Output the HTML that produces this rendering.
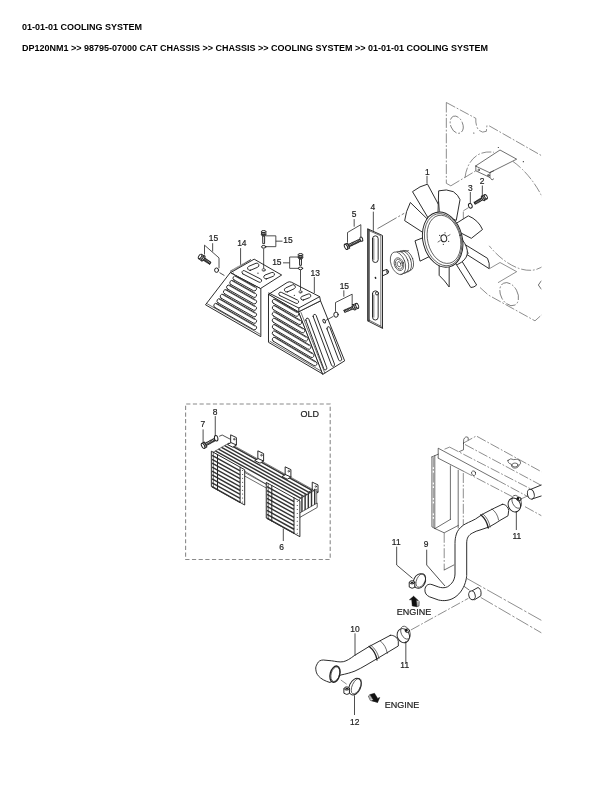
<!DOCTYPE html>
<html lang="en"><head><meta charset="utf-8"><title>01-01-01 COOLING SYSTEM</title>
<style>
html,body{margin:0;padding:0;background:#fff;}
body{width:612px;height:792px;position:relative;overflow:hidden;font-family:"Liberation Sans",sans-serif;color:#000;}
h1,p{will-change:transform;margin:0;position:absolute;left:22px;font-weight:bold;font-size:9px;line-height:10px;white-space:nowrap;letter-spacing:0;}
h1{top:22px;}
p{top:43px;}
svg{position:absolute;left:0;top:0;will-change:transform;}
svg text{font-family:"Liberation Sans",sans-serif;fill:#222;stroke:#222;stroke-width:.2px;}
.k{fill:none;stroke:#222;stroke-width:.95;stroke-linecap:round;stroke-linejoin:round;}
.w{fill:#fff;stroke:#222;stroke-width:.95;stroke-linecap:round;stroke-linejoin:round;}
.t{fill:none;stroke:#222;stroke-width:.65;stroke-linecap:round;stroke-linejoin:round;}
.ph{fill:none;stroke:#505050;stroke-width:.65;stroke-dasharray:10 1.8 1.8 1.8;}
.ld{fill:none;stroke:#222;stroke-width:.8;}
.d{fill:#222;stroke:none;}
</style></head><body>
<h1>01-01-01 COOLING SYSTEM</h1>
<p>DP120NM1 &gt;&gt; 98795-07000 CAT CHASSIS &gt;&gt; CHASSIS &gt;&gt; COOLING SYSTEM &gt;&gt; 01-01-01 COOLING SYSTEM</p>
<svg width="612" height="792" viewBox="0 0 612 792">
<!-- 05_engine -->
<clipPath id="cpE"><rect x="430" y="90" width="111.5" height="260"/></clipPath>
<g clip-path="url(#cpE)">
<path class="ph" d="M446.33,102.5 L446.33,183.33 L450.83,185.83"/>
<path class="ph" d="M 446.33,102.5 L 475.83,118.33 Q 475.33,124.17 478,129.17 Q 481.67,133.67 486.33,131.33 L 487,125"/>
<path class="ph" d="M489.17,125.83 L543.33,156.67"/>
<ellipse class="ph" cx="456.67" cy="124.67" rx="6" ry="9" transform="rotate(-22 456.67 124.67)"/>
<ellipse class="d" cx="473.83" cy="133" rx="0.58" ry="0.58"/>
<ellipse class="d" cx="498.33" cy="147.5" rx="0.58" ry="0.58"/>
<ellipse class="d" cx="523.33" cy="161.67" rx="0.58" ry="0.58"/>
<path class="ph" d="M450.83,185.83 L475.83,170.83"/>
<path class="ph" d="M465,177.5 A64,36.65 61.6 0 1 494,152.3"/>
<path class="ph" d="M513,161.5 A64,36.65 61.6 0 1 545,203"/>
<path class="ph" d="M545,264.5 A64,36.65 61.6 0 1 489.2,245.8"/>
<path class="t" d="M475.83,165.83 L500,150 L516.67,159.17 L490,172.5 Z"/>
<path class="t" d="M475.83,165.83 L475.83,170.83 L490,177.5 L490,172.5"/>
<path class="t" d="M490,177.5 L492,180 L493.67,178.83"/>
<path class="t" d="M490,172.5 L493.67,170.83"/>
<ellipse class="t" cx="478.67" cy="170" rx="0.83" ry="0.83"/>
<ellipse class="t" cx="488.33" cy="175.33" rx="0.83" ry="0.83"/>
<path class="ph" d="M463.33,210.83 L468.67,207.5"/>
<path class="ph" d="M463.33,211.67 L463.33,219.17"/>
<path class="t" d="M490,268.33 L500,262.5 L516.67,271.67 L498.33,282.5" style="stroke:#555"/>
<ellipse class="ph" cx="509.17" cy="294.17" rx="8.33" ry="12.33" transform="rotate(-28 509.17 294.17)"/>
<path class="ph" d="M480,287.5 L488.33,295 L535,320.83 L543.33,313.33"/>
<path class="t" d="M541.33,280.83 L538.33,285 L541.33,289.17"/>
</g>

<!-- 10_louvers -->
<path class="w" d="M230.83,272.5 L260.83,288.33 L260.83,336.67 L205.83,305 Z"/>
<path class="t" d="M207,303.67 L260,334.17"/>
<path class="w" d="M230.83,272.5 L254.17,259.17 L281.67,275 L260.83,288.33 Z"/>
<path class="k" d="M230.5,271.33 L250.83,259.67" style="stroke-width:1.3;stroke-dasharray:.7 .5;stroke-linecap:butt"/>
<path class="t" d="M232.5,273.67 L233.67,273"/>
<path class="w" d="M233.95,279.89 L253.45,290.72 A2.17,2.17 0 0 0 255.55,286.94 L236.05,276.11 A2.17,2.17 0 0 0 233.95,279.89 Z"/>
<path class="t" d="M235.5,276.42 L254.5,287.17"/>
<path class="w" d="M230.75,284.47 L253.44,297.2 A2.17,2.17 0 0 0 255.56,293.42 L232.87,280.69 A2.17,2.17 0 0 0 230.75,284.47 Z"/>
<path class="t" d="M232.31,281 L254.5,293.64"/>
<path class="w" d="M227.55,289.06 L253.44,303.67 A2.17,2.17 0 0 0 255.56,299.89 L229.67,285.28 A2.17,2.17 0 0 0 227.55,289.06 Z"/>
<path class="t" d="M229.11,285.58 L254.5,300.11"/>
<path class="w" d="M224.35,293.63 L253.43,310.13 A2.17,2.17 0 0 0 255.57,306.37 L226.49,289.87 A2.17,2.17 0 0 0 224.35,293.63 Z"/>
<path class="t" d="M225.92,290.17 L254.5,306.58"/>
<path class="w" d="M221.15,298.21 L253.43,316.6 A2.17,2.17 0 0 0 255.57,312.84 L223.29,294.45 A2.17,2.17 0 0 0 221.15,298.21 Z"/>
<path class="t" d="M222.72,294.75 L254.5,313.06"/>
<path class="w" d="M217.95,302.8 L253.42,323.07 A2.17,2.17 0 0 0 255.58,319.31 L220.11,299.04 A2.17,2.17 0 0 0 217.95,302.8 Z"/>
<path class="t" d="M219.53,299.33 L254.5,319.53"/>
<path class="w" d="M214.75,307.38 L253.42,329.55 A2.17,2.17 0 0 0 255.58,325.79 L216.91,303.62 A2.17,2.17 0 0 0 214.75,307.38 Z"/>
<path class="t" d="M216.33,303.92 L254.5,326"/>
<path class="w" d="M250.4,270.31 L257.73,267.19 A2.16,2.16 0 0 0 256.05,263.23 L248.72,266.35 A2.16,2.16 0 0 0 250.4,270.31 Z"/>
<path class="w" d="M266.47,278.87 L273.26,276.28 A2.05,2.05 0 0 0 271.8,272.46 L265.01,275.05 A2.05,2.05 0 0 0 266.47,278.87 Z"/>
<path class="w" d="M242.82,273.9 L259.1,282.21 A1.78,1.78 0 0 0 260.72,279.05 L244.44,270.74 A1.78,1.78 0 0 0 242.82,273.9 Z"/>
<ellipse class="t" cx="263.69" cy="269.95" rx="1.62" ry="1.4"/>
<ellipse class="d" cx="263.9" cy="270.27" rx="0.65" ry="0.54"/>
<ellipse class="d" cx="257.97" cy="273.19" rx="0.65" ry="0.65"/>
<path class="w" d="M268.83,294.17 L298.83,311.67 L323,374.17 L268.83,342.5 Z"/>
<path class="t" d="M270,341.33 L322.17,371.67"/>
<path class="w" d="M298.83,311.67 L320.5,300.83 L344.67,360.83 L323,374.17 Z"/>
<path class="w" d="M 268.83,294.17 L 287.17,282.5 Q 289.33,281.17 291.33,282.17 L 319.67,296.67 L 320.5,300.83 L 298.83,311.67 Z"/>
<path class="k" d="M268.83,293 L298.83,308 L319.67,296.67"/>
<path class="k" d="M298.83,308 L298.83,311.67"/>
<path class="w" d="M273.25,303.21 L295.59,316.05 A2.17,2.17 0 0 0 297.75,312.29 L275.41,299.45 A2.17,2.17 0 0 0 273.25,303.21 Z"/>
<path class="t" d="M274.83,299.75 L296.67,312.5"/>
<path class="w" d="M273.24,309.54 L298.63,324.29 A2.17,2.17 0 0 0 300.81,320.55 L275.42,305.8 A2.17,2.17 0 0 0 273.24,309.54 Z"/>
<path class="t" d="M274.83,306.08 L299.72,320.75"/>
<path class="w" d="M273.23,315.87 L301.68,332.54 A2.17,2.17 0 0 0 303.88,328.8 L275.43,312.13 A2.17,2.17 0 0 0 273.23,315.87 Z"/>
<path class="t" d="M274.83,312.42 L302.78,329"/>
<path class="w" d="M273.23,322.2 L304.73,340.79 A2.17,2.17 0 0 0 306.93,337.05 L275.43,318.46 A2.17,2.17 0 0 0 273.23,322.2 Z"/>
<path class="t" d="M274.83,318.75 L305.83,337.25"/>
<path class="w" d="M273.22,328.53 L307.78,349.03 A2.17,2.17 0 0 0 310,345.31 L275.44,324.81 A2.17,2.17 0 0 0 273.22,328.53 Z"/>
<path class="t" d="M274.83,325.08 L308.89,345.5"/>
<path class="w" d="M273.22,334.86 L310.83,357.28 A2.17,2.17 0 0 0 313.05,353.56 L275.44,331.14 A2.17,2.17 0 0 0 273.22,334.86 Z"/>
<path class="t" d="M274.83,331.42 L311.94,353.75"/>
<path class="w" d="M273.22,341.19 L313.89,365.53 A2.17,2.17 0 0 0 316.11,361.81 L275.44,337.47 A2.17,2.17 0 0 0 273.22,341.19 Z"/>
<path class="t" d="M274.83,337.75 L315,362"/>
<path class="t" d="M301,312.5 L324.83,373"/>
<path class="w" d="M305.85,320.22 L323.85,368.88 A1.58,1.58 0 0 0 326.81,367.78 L308.81,319.12 A1.58,1.58 0 0 0 305.85,320.22 Z"/>
<path class="w" d="M313.19,316.56 L331.52,365.23 A1.58,1.58 0 0 0 334.48,364.11 L316.15,315.44 A1.58,1.58 0 0 0 313.19,316.56 Z"/>
<path class="w" d="M327.02,328.89 L338.69,359.89 A1.58,1.58 0 0 0 341.65,358.77 L329.98,327.77 A1.58,1.58 0 0 0 327.02,328.89 Z"/>
<ellipse class="k" cx="324.17" cy="321.17" rx="1.17" ry="2" transform="rotate(-25 324.17 321.17)"/>
<path class="w" d="M287.38,291.91 L294.17,288.78 A2.16,2.16 0 0 0 292.37,284.86 L285.58,287.99 A2.16,2.16 0 0 0 287.38,291.91 Z"/>
<path class="w" d="M303.38,300.05 L309.63,297.57 A1.94,1.94 0 0 0 308.19,293.97 L301.94,296.45 A1.94,1.94 0 0 0 303.38,300.05 Z"/>
<path class="w" d="M279.78,295.55 L296.06,303.32 A1.78,1.78 0 0 0 297.6,300.1 L281.32,292.33 A1.78,1.78 0 0 0 279.78,295.55 Z"/>
<ellipse class="t" cx="300.5" cy="291.89" rx="1.51" ry="1.29"/>
<ellipse class="d" cx="300.72" cy="292.22" rx="0.65" ry="0.54"/>
<ellipse class="d" cx="294.35" cy="295.34" rx="0.65" ry="0.65"/>

<!-- 12_louver_bolts -->
<text x="208.73" y="241.24" font-size="9" transform="translate(208.73 241.24) scale(.94 1.04) translate(-208.73 -241.24)">15</text>
<text x="237.16" y="246.33" font-size="9" transform="translate(237.16 246.33) scale(.94 1.04) translate(-237.16 -246.33)">14</text>
<path class="ld" d="M212.65,243.2 L212.65,251.53"/>
<path class="ld" d="M204.51,254.47 L204.51,245.16 L219.02,257.9 L219.02,268.2"/>
<g transform="translate(200.1 256.43) rotate(34.18)">
<path class="w" d="M3.6,-1.2 L12.21,-1.08 L12.21,1.08 L3.6,1.2 Z"/>
<path class="t" d="M4.55,-1.2 L5.25,1.2 M5.95,-1.2 L6.65,1.2 M7.35,-1.2 L8.05,1.2 M8.76,-1.2 L9.46,1.2 M10.16,-1.2 L10.86,1.2 M11.56,-1.2 L12.26,1.2"/>
<path class="t" d="M4.6,0.36 L11.91,0.36"/>
<ellipse class="w" cx="3.6" cy="0" rx="1.17" ry="2.99"/>
<path class="w" d="M0,-2.6 L3.06,-2.6 L3.06,2.6 L0,2.6 Z"/>
<ellipse class="w" cx="0" cy="0" rx="1.3" ry="2.6"/>
<path class="t" d="M1.04,1.17 L3.06,1.17 M1.04,-1.17 L3.06,-1.17"/>
</g>
<ellipse class="w" style="stroke-width:1" cx="216.57" cy="270.16" rx="2" ry="2.2"/>
<path class="ld" d="M219.51,272.61 L224.41,275.55"/>
<path class="ld" d="M240.59,248.1 L240.59,264.76"/>
<g transform="translate(263.67 231.67) rotate(90)">
<path class="w" d="M3.2,-1 L12,-0.9 L12,0.9 L3.2,1 Z"/>
<ellipse class="w" cx="3.2" cy="0" rx="0.99" ry="2.53"/>
<path class="w" d="M0,-2.2 L2.72,-2.2 L2.72,2.2 L0,2.2 Z"/>
<ellipse class="w" cx="0" cy="0" rx="1.1" ry="2.2"/>
<path class="t" d="M0.88,0.99 L2.72,0.99 M0.88,-0.99 L2.72,-0.99"/>
</g>
<ellipse class="w" style="stroke-width:1" cx="263.67" cy="246.83" rx="2.2" ry="1.3"/>
<path class="ld" d="M265.83,235.83 L275.83,235.83 L275.83,246.67 L265.83,246.67"/>
<path class="ld" d="M275.83,241.17 L282.5,241.17"/>
<text x="283.33" y="243.33" font-size="9" transform="translate(283.33 243.33) scale(.94 1.04) translate(-283.33 -243.33)">15</text>
<path class="ld" d="M263.67,248.67 L263.67,268.67"/>
<g transform="translate(300.5 254.67) rotate(90)">
<path class="w" d="M3.2,-1 L10.66,-0.9 L10.66,0.9 L3.2,1 Z"/>
<ellipse class="w" cx="3.2" cy="0" rx="0.99" ry="2.53"/>
<path class="w" d="M0,-2.2 L2.72,-2.2 L2.72,2.2 L0,2.2 Z"/>
<ellipse class="w" cx="0" cy="0" rx="1.1" ry="2.2"/>
<path class="t" d="M0.88,0.99 L2.72,0.99 M0.88,-0.99 L2.72,-0.99"/>
</g>
<ellipse class="w" style="stroke-width:1" cx="300.5" cy="268.33" rx="2.2" ry="1.3"/>
<path class="ld" d="M298.83,257 L289.67,257 L289.67,268.33 L298.83,268.33"/>
<path class="ld" d="M289.67,262.83 L283,262.83"/>
<text x="272.17" y="265.5" font-size="9" transform="translate(272.17 265.5) scale(.94 1.04) translate(-272.17 -265.5)">15</text>
<path class="ld" d="M300.5,270 L300.5,290.33"/>
<text x="310.5" y="275.83" font-size="9" transform="translate(310.5 275.83) scale(.94 1.04) translate(-310.5 -275.83)">13</text>
<path class="ld" d="M314.33,277 L314.33,293"/>
<text x="339.67" y="289.5" font-size="9" transform="translate(339.67 289.5) scale(.94 1.04) translate(-339.67 -289.5)">15</text>
<path class="ld" d="M343.83,290.33 L343.83,296.67"/>
<path class="ld" d="M335.5,311.67 L335.5,302.5 L352.17,294.17 L352.17,305"/>
<ellipse class="w" style="stroke-width:1" cx="336" cy="314.67" rx="2.2" ry="2.6"/>
<g transform="translate(357.17 305.83) rotate(156.81)">
<path class="w" d="M3.6,-1.2 L13.97,-1.08 L13.97,1.08 L3.6,1.2 Z"/>
<path class="t" d="M4.55,-1.2 L5.25,1.2 M6.01,-1.2 L6.71,1.2 M7.47,-1.2 L8.17,1.2 M8.93,-1.2 L9.63,1.2 M10.4,-1.2 L11.1,1.2 M11.86,-1.2 L12.56,1.2 M13.32,-1.2 L14.02,1.2"/>
<path class="t" d="M4.6,0.36 L13.67,0.36"/>
<ellipse class="w" cx="3.6" cy="0" rx="1.17" ry="2.99"/>
<path class="w" d="M0,-2.6 L3.06,-2.6 L3.06,2.6 L0,2.6 Z"/>
<ellipse class="w" cx="0" cy="0" rx="1.3" ry="2.6"/>
<path class="t" d="M1.04,1.17 L3.06,1.17 M1.04,-1.17 L3.06,-1.17"/>
</g>
<path class="ld" d="M333.33,316.33 L326,320.33"/>

<!-- 20_bar_fan -->
<path class="ld" d="M377.5,228.67 L404.17,213.33" style="stroke-width:.6;stroke-dasharray:22 2 2 2"/>
<path class="w" d="M 381.67,271.33 L 387,269.33 Q 389.33,271 388,273.33 L 382.5,275.83 Z"/>
<ellipse class="t" cx="387.33" cy="271.67" rx="0.83" ry="1.67" transform="rotate(-15 387.33 271.67)"/>
<path class="w" d="M368,229 L382.5,235.5 L382.5,328.33 L368,321 Z"/>
<path class="t" d="M369.5,230.83 L380.83,235.83 L380.83,326.17 L369.5,320.33 Z"/>
<path class="t" d="M368,229 L369.5,230.83"/>
<path class="t" d="M368,321 L369.5,320.33"/>
<path class="t" d="M380.83,326.17 L382.5,328.33"/>
<path class="k" d="M368.83,229.83 L368.83,320.67"/>
<path class="w" d="M372.5,238.67 L372.5,259.67 A2.83,2.83 0 0 0 378.16,259.67 L378.16,238.67 A2.83,2.83 0 0 0 372.5,238.67 Z"/>
<path class="t" d="M373.83,238.67 L373.83,259.67"/>
<path class="w" d="M372.5,293.67 L372.5,317.17 A2.83,2.83 0 0 0 378.16,317.17 L378.16,293.67 A2.83,2.83 0 0 0 372.5,293.67 Z"/>
<path class="t" d="M373.83,295 L373.83,317.17"/>
<ellipse class="d" cx="375.5" cy="277.83" rx="0.83" ry="1.17" transform="rotate(-20 375.5 277.83)"/>
<ellipse class="w" cx="377" cy="293.33" rx="1.5" ry="1.67"/>
<text x="370.5" y="210.33" font-size="9" transform="translate(370.5 210.33) scale(.94 1.04) translate(-370.5 -210.33)">4</text>
<path class="ld" d="M373.33,211.67 L373.33,230.83"/>
<text x="351.67" y="217.5" font-size="9" transform="translate(351.67 217.5) scale(.94 1.04) translate(-351.67 -217.5)">5</text>
<path class="ld" d="M354.17,219.17 L354.17,226.67"/>
<path class="ld" d="M347.5,242.5 L347.5,232.5 L360.83,224.67 L360.83,237.5"/>
<g transform="translate(346 246.83) rotate(-24.93)">
<path class="w" d="M3.4,-1.2 L15.8,-1.08 L15.8,1.08 L3.4,1.2 Z"/>
<path class="t" d="M4.35,-1.2 L5.05,1.2 M5.7,-1.2 L6.4,1.2 M7.05,-1.2 L7.75,1.2 M8.4,-1.2 L9.1,1.2 M9.75,-1.2 L10.45,1.2 M11.1,-1.2 L11.8,1.2 M12.45,-1.2 L13.15,1.2 M13.8,-1.2 L14.5,1.2 M15.15,-1.2 L15.85,1.2"/>
<path class="t" d="M4.4,0.36 L15.5,0.36"/>
<path class="w" d="M0,-2.8 L2.89,-2.8 L2.89,2.8 L0,2.8 Z"/>
<ellipse class="w" cx="0" cy="0" rx="1.4" ry="2.8"/>
<path class="t" d="M1.12,1.26 L2.89,1.26 M1.12,-1.26 L2.89,-1.26"/>
</g>
<ellipse class="w" style="stroke-width:1" cx="361.33" cy="239.17" rx="1.3" ry="2.2" transform="rotate(-20 361.33 239.17)"/>
<ellipse class="w" cx="406.8" cy="260.6" rx="6.2" ry="10.6" transform="rotate(-20 406.8 260.6)" style="stroke:#333;stroke-width:.7"/>
<ellipse class="w" cx="404.3" cy="261.4" rx="6.6" ry="11.2" transform="rotate(-20 404.3 261.4)" style="stroke:#333;stroke-width:.7"/>
<ellipse class="w" cx="401.3" cy="262.3" rx="6.8" ry="11.5" transform="rotate(-20 401.3 262.3)" style="stroke:#333;stroke-width:.7"/>
<ellipse class="w" cx="398" cy="263.2" rx="7" ry="11.8" transform="rotate(-20 398 263.2)" style="stroke:#333;stroke-width:.7"/>
<path class="t" d="M399.5,251.8 L408.5,250.6 M401,274.6 L409.5,270.6" style="stroke:#333;stroke-width:.7"/>
<ellipse class="t" cx="399" cy="264.2" rx="4.6" ry="6.6" transform="rotate(-20 399 264.2)" style="stroke:#333;stroke-width:.7"/>
<ellipse class="t" cx="399" cy="264.2" rx="3.4" ry="5.0" transform="rotate(-20 399 264.2)" style="stroke:#333;stroke-width:.7"/>
<ellipse class="t" cx="399" cy="264.2" rx="1.8" ry="2.7" transform="rotate(-20 399 264.2)" style="stroke:#333;stroke-width:.7"/>

<path class="w" d="M 428.33,220 L 410.33,202.5 Q 405.67,211.67 404.67,220.67 L 424.17,233.33 Z"/>
<path class="w" d="M 428.33,218.33 L 412.5,191.67 Q 420,185.83 427.5,184.17 L 439.17,205.83 L 439.17,218.33 Z"/>
<path class="w" d="M 438,213.33 L 438.67,190.83 Q 446.67,188.67 453.33,191.67 Q 458.33,195 460,199.67 L 456.33,220 Z"/>
<path class="w" d="M 454.17,224.67 L 468.33,215.83 Q 478.33,220 482.5,229.5 L 471.33,238.33 L 460,232.5 Z"/>
<path class="w" d="M 461.67,242.5 L 487.5,258.33 Q 490,263.33 489.17,268.67 L 465,253.33 Z"/>
<path class="w" d="M 456.67,265 L 470.83,287.5 Q 474.17,287.5 476.67,285 L 461.67,260.83 Z"/>
<path class="w" d="M 439.17,260.83 L 439.17,275.33 Q 445,280.83 449.17,287 L 449.17,265 Z"/>
<path class="w" d="M 425.83,236.67 L 415,240.83 Q 418.33,251.67 420,261.17 L 432.5,255 Z"/>
<path class="t" d="M438.67,201.67 L439.67,211.67"/>
<path class="t" d="M463.33,243.33 L468.33,253.33"/>
<path class="w" d="M462.5,240 Q468.2,247.5 467.3,254 Q466,260.5 457.5,264.5 L450,262 L458,244 Z"/>
<ellipse class="w" cx="442.67" cy="239.67" rx="19.67" ry="28" transform="rotate(-14 442.67 239.67)"/>
<ellipse class="t" cx="443.17" cy="239.67" rx="18.17" ry="26.5" transform="rotate(-14 443.17 239.67)"/>
<ellipse class="t" cx="444" cy="239.33" rx="16.33" ry="24.5" transform="rotate(-14 444 239.33)"/>
<ellipse class="k" cx="443.83" cy="238.33" rx="2.83" ry="3.5" transform="rotate(-14 443.83 238.33)"/>
<ellipse class="d" cx="439.67" cy="235.33" rx="0.58" ry="0.58"/>
<ellipse class="d" cx="445" cy="232.83" rx="0.58" ry="0.58"/>
<ellipse class="d" cx="448.67" cy="241.33" rx="0.58" ry="0.58"/>
<ellipse class="d" cx="443.33" cy="244.33" rx="0.58" ry="0.58"/>
<path class="t" d="M438,242 L440.33,240.5"/>
<path class="t" d="M447.67,236 L450,234.67"/>
<text x="425" y="174.67" font-size="9" transform="translate(425 174.67) scale(.94 1.04) translate(-425 -174.67)">1</text>
<path class="ld" d="M427,175.83 L427,183.67"/>
<text x="468" y="190.83" font-size="9" transform="translate(468 190.83) scale(.94 1.04) translate(-468 -190.83)">3</text>
<path class="ld" d="M470.33,192 L470.33,203.33"/>
<ellipse class="w" style="stroke-width:1" cx="470.33" cy="205.83" rx="1.8" ry="2.4" transform="rotate(-20 470.33 205.83)"/>
<text x="479.67" y="184.17" font-size="9" transform="translate(479.67 184.17) scale(.94 1.04) translate(-479.67 -184.17)">2</text>
<path class="ld" d="M482.33,185.5 L482.33,195"/>
<g transform="translate(485.83 196.67) rotate(149.17)">
<path class="w" d="M3.2,-1.1 L13,-0.99 L13,0.99 L3.2,1.1 Z"/>
<path class="t" d="M4.15,-1.1 L4.85,1.1 M5.52,-1.1 L6.22,1.1 M6.88,-1.1 L7.58,1.1 M8.25,-1.1 L8.95,1.1 M9.61,-1.1 L10.31,1.1 M10.98,-1.1 L11.68,1.1 M12.35,-1.1 L13.05,1.1"/>
<path class="t" d="M4.2,0.33 L12.7,0.33"/>
<ellipse class="w" cx="3.2" cy="0" rx="1.08" ry="2.76"/>
<path class="w" d="M0,-2.4 L2.72,-2.4 L2.72,2.4 L0,2.4 Z"/>
<ellipse class="w" cx="0" cy="0" rx="1.2" ry="2.4"/>
<path class="t" d="M0.96,1.08 L2.72,1.08 M0.96,-1.08 L2.72,-1.08"/>
</g>

<!-- 30_old -->
<rect x="185.6" y="404" width="144.6" height="155.5" fill="none" stroke="#8a8a8a" stroke-width="1.1" stroke-dasharray="4.2 2.47" stroke-dashoffset="-0.6"/>
<text x="300.5" y="417.3" font-size="9">OLD</text>
<path class="w" d="M213.5,452 L229,443 L315.5,491.01 L300,504.01 Z" style="stroke-width:.6"/>
<path class="k" d="M215.36,450.92 L301.86,498.93" style="stroke:#333;stroke-width:1.45;stroke-linecap:butt"/>
<path class="k" d="M218.46,449.12 L304.96,497.13" style="stroke:#333;stroke-width:1.45;stroke-linecap:butt"/>
<path class="k" d="M221.56,447.32 L308.06,495.33" style="stroke:#333;stroke-width:1.45;stroke-linecap:butt"/>
<path class="k" d="M224.66,445.52 L311.16,493.53" style="stroke:#333;stroke-width:1.45;stroke-linecap:butt"/>
<path class="k" d="M227.76,443.72 L314.26,491.73" style="stroke:#333;stroke-width:1.45;stroke-linecap:butt"/>
<path class="t" d="M244.5,472.31 L267.5,485.07"/>
<path class="t" d="M244.5,475.9 L267.5,488.67"/>
<path class="w" d="M231,442.6 L227.5,444.6 L232.8,447.2 L236.4,445"/>
<path class="w" d="M231,435 L236.4,437.6 L236.4,445 L231,442.6 Z"/>
<ellipse class="t" cx="234.2" cy="439.2" rx="0.7" ry="0.9"/>
<path class="w" d="M258.2,458.6 L254.7,460.6 L260,463.2 L263.6,461"/>
<path class="w" d="M258.2,451 L263.6,453.6 L263.6,461 L258.2,458.6 Z"/>
<ellipse class="t" cx="261.4" cy="455.2" rx="0.7" ry="0.9"/>
<path class="w" d="M285.5,474.6 L282,476.6 L287.3,479.2 L290.9,477"/>
<path class="w" d="M285.5,467 L290.9,469.6 L290.9,477 L285.5,474.6 Z"/>
<ellipse class="t" cx="288.7" cy="471.2" rx="0.7" ry="0.9"/>
<path class="w" d="M312.6,489.9 L309.1,491.9 L314.4,494.5 L318,492.3"/>
<path class="w" d="M312.6,482.3 L318,484.9 L318,492.3 L312.6,489.9 Z"/>
<ellipse class="t" cx="315.8" cy="486.5" rx="0.7" ry="0.9"/>
<path class="w" d="M211.7,451.4 L244.7,469.71 L244.7,505.01 L211.7,486.7 Z"/>
<path class="k" d="M212.1,455.35 L240.1,470.89" style="stroke:#333;stroke-width:1.45;stroke-linecap:butt"/>
<ellipse class="d" cx="242.63" cy="470.53" rx="0.5" ry="0.5"/>
<path class="k" d="M212.1,459.27 L240.1,474.81" style="stroke:#333;stroke-width:1.45;stroke-linecap:butt"/>
<ellipse class="d" cx="242.63" cy="474.45" rx="0.5" ry="0.5"/>
<path class="k" d="M212.1,463.19 L240.1,478.73" style="stroke:#333;stroke-width:1.45;stroke-linecap:butt"/>
<ellipse class="d" cx="242.63" cy="478.37" rx="0.5" ry="0.5"/>
<path class="k" d="M212.1,467.11 L240.1,482.65" style="stroke:#333;stroke-width:1.45;stroke-linecap:butt"/>
<ellipse class="d" cx="242.63" cy="482.29" rx="0.5" ry="0.5"/>
<path class="k" d="M212.1,471.04 L240.1,486.58" style="stroke:#333;stroke-width:1.45;stroke-linecap:butt"/>
<ellipse class="d" cx="242.63" cy="486.22" rx="0.5" ry="0.5"/>
<path class="k" d="M212.1,474.96 L240.1,490.5" style="stroke:#333;stroke-width:1.45;stroke-linecap:butt"/>
<ellipse class="d" cx="242.63" cy="490.14" rx="0.5" ry="0.5"/>
<path class="k" d="M212.1,478.88 L240.1,494.42" style="stroke:#333;stroke-width:1.45;stroke-linecap:butt"/>
<ellipse class="d" cx="242.63" cy="494.06" rx="0.5" ry="0.5"/>
<path class="k" d="M212.1,482.8 L240.1,498.34" style="stroke:#333;stroke-width:1.45;stroke-linecap:butt"/>
<ellipse class="d" cx="242.63" cy="497.98" rx="0.5" ry="0.5"/>
<path class="k" d="M212.1,486.73 L240.1,502.27" style="stroke:#333;stroke-width:1.45;stroke-linecap:butt"/>
<ellipse class="d" cx="242.63" cy="501.91" rx="0.5" ry="0.5"/>
<path class="k" d="M217.5,454.62 L217.5,489.92"/>
<path class="k" d="M240.1,467.16 L240.1,502.46"/>
<path class="t" d="M213.3,452.29 L213.3,487.59"/>
<path class="w" d="M299.7,499 L316.7,489.2 L316.7,507 L299.7,517 Z" style="stroke-width:.6"/>
<path class="k" d="M301.94,496.2 L301.94,514.7" style="stroke:#333;stroke-width:1.45;stroke-linecap:butt"/>
<path class="k" d="M305.13,494.35 L305.13,512.85" style="stroke:#333;stroke-width:1.45;stroke-linecap:butt"/>
<path class="k" d="M308.32,492.49 L308.32,510.99" style="stroke:#333;stroke-width:1.45;stroke-linecap:butt"/>
<path class="k" d="M311.51,490.64 L311.51,509.14" style="stroke:#333;stroke-width:1.45;stroke-linecap:butt"/>
<path class="k" d="M314.71,488.79 L314.71,507.29" style="stroke:#333;stroke-width:1.45;stroke-linecap:butt"/>
<path class="w" d="M299.7,513 L317.2,503 L317.2,507.5 L299.7,517.5 Z" style="stroke-width:.7"/>
<path class="w" d="M266.6,482.6 L299.9,501.08 L299.9,536.68 L266.6,518.2 Z"/>
<path class="k" d="M267,486.58 L294,501.56" style="stroke:#333;stroke-width:1.45;stroke-linecap:butt"/>
<ellipse class="d" cx="297.25" cy="501.59" rx="0.5" ry="0.5"/>
<path class="k" d="M267,490.54 L294,505.52" style="stroke:#333;stroke-width:1.45;stroke-linecap:butt"/>
<ellipse class="d" cx="297.25" cy="505.54" rx="0.5" ry="0.5"/>
<path class="k" d="M267,494.49 L294,509.48" style="stroke:#333;stroke-width:1.45;stroke-linecap:butt"/>
<ellipse class="d" cx="297.25" cy="509.5" rx="0.5" ry="0.5"/>
<path class="k" d="M267,498.45 L294,513.43" style="stroke:#333;stroke-width:1.45;stroke-linecap:butt"/>
<ellipse class="d" cx="297.25" cy="513.45" rx="0.5" ry="0.5"/>
<path class="k" d="M267,502.4 L294,517.39" style="stroke:#333;stroke-width:1.45;stroke-linecap:butt"/>
<ellipse class="d" cx="297.25" cy="517.41" rx="0.5" ry="0.5"/>
<path class="k" d="M267,506.36 L294,521.34" style="stroke:#333;stroke-width:1.45;stroke-linecap:butt"/>
<ellipse class="d" cx="297.25" cy="521.36" rx="0.5" ry="0.5"/>
<path class="k" d="M267,510.31 L294,525.3" style="stroke:#333;stroke-width:1.45;stroke-linecap:butt"/>
<ellipse class="d" cx="297.25" cy="525.32" rx="0.5" ry="0.5"/>
<path class="k" d="M267,514.27 L294,529.25" style="stroke:#333;stroke-width:1.45;stroke-linecap:butt"/>
<ellipse class="d" cx="297.25" cy="529.27" rx="0.5" ry="0.5"/>
<path class="k" d="M267,518.22 L294,533.21" style="stroke:#333;stroke-width:1.45;stroke-linecap:butt"/>
<ellipse class="d" cx="297.25" cy="533.23" rx="0.5" ry="0.5"/>
<path class="k" d="M271.8,485.49 L271.8,521.09"/>
<path class="k" d="M294,497.81 L294,533.41"/>
<path class="t" d="M268.2,483.49 L268.2,519.09"/>
<text x="200.49" y="427.19" font-size="9" transform="translate(200.49 427.19) scale(.94 1.04) translate(-200.49 -427.19)">7</text>
<path class="ld" d="M203.1,429.41 L203.1,442.48"/>
<g transform="translate(203.1 445.88) rotate(-28.58)">
<path class="w" d="M3.4,-1.3 L13.11,-1.17 L13.11,1.17 L3.4,1.3 Z"/>
<path class="t" d="M4.35,-1.3 L5.05,1.3 M5.7,-1.3 L6.4,1.3 M7.05,-1.3 L7.75,1.3 M8.4,-1.3 L9.1,1.3 M9.75,-1.3 L10.45,1.3 M11.11,-1.3 L11.81,1.3 M12.46,-1.3 L13.16,1.3"/>
<path class="t" d="M4.4,0.39 L12.81,0.39"/>
<path class="w" d="M0,-2.8 L2.89,-2.8 L2.89,2.8 L0,2.8 Z"/>
<ellipse class="w" cx="0" cy="0" rx="1.4" ry="2.8"/>
<path class="t" d="M1.12,1.26 L2.89,1.26 M1.12,-1.26 L2.89,-1.26"/>
</g>
<ellipse class="w" style="stroke-width:1" cx="216.18" cy="438.3" rx="1.7" ry="2.8" transform="rotate(-10 216.18 438.3)"/>
<path class="ld" d="M215.26,416.08 L215.26,435.42"/>
<text x="212.65" y="414.77" font-size="9" transform="translate(212.65 414.77) scale(.94 1.04) translate(-212.65 -414.77)">8</text>
<path class="ld" d="M219.18,436.34 L222.19,435.03 L230.56,439.35"/>

<text x="279.2" y="550.3" font-size="9" transform="translate(279.2 550.3) scale(.94 1.04) translate(-279.2 -550.3)">6</text>
<path class="ld" d="M283.3,528.5 L283.3,541"/>

<!-- 40_radiator -->
<clipPath id="cpR"><rect x="380" y="425" width="161.5" height="240"/></clipPath>
<g clip-path="url(#cpR)">
<path class="t" d="M431.9,456.9 L431.9,526.8 L435,528.6 L450.4,519.4"/>
<path class="ph" d="M433.3,457.2 L433.3,527.4"/>
<path class="t" d="M434.8,455.6 L434.8,528.4"/>
<path class="t" d="M431.9,456.9 L438.2,454.2"/>
<path class="t" d="M438.2,457.8 L438.2,448.2 L497,480"/>
<path class="ph" d="M497,480 L530,497.8"/>
<path class="t" d="M438.2,458.2 L463,471"/>
<path class="ph" d="M463,471 L512,496.5"/>
<path class="ph" d="M444.5,449.2 L449.6,447.1"/>
<path class="ph" d="M449.6,447.1 L541.5,494.5"/>
<ellipse class="t" cx="473.6" cy="473.2" rx="2" ry="2.4" transform="rotate(-20 473.6 473.2)"/>
<path class="t" d="M450.4,465.8 L450.4,519.4"/>
<path class="t" d="M458.2,470.3 L458.2,528"/>
<path class="ph" d="M463.3,473 L463.3,525"/>
<path class="t" d="M435,528.6 L444.2,532.8 L458.2,525.5"/>
<path class="ph" d="M444.2,532.8 L444.2,570"/>
<path class="t" d="M444.2,570 L453.8,565"/>
<path class="t" d="M459.5,451.5 L463.5,449.8 L463.5,443"/>
<path class="t" d="M 463.5,443.5 L 463.7,439.5 Q 465.5,435.5 468.2,437.6 L 468.2,440"/>
<path class="ph" d="M463.5,443 L476.3,436 L541.5,471.8"/>
<path class="ph" d="M465,444.5 L541.5,485.5"/>
<path class="t" d="M 508,460.33 Q 510.83,457.5 513.67,459.67 Q 517.5,458 520,460.83 Q 521.67,463.33 519.17,465.33 Q 517.5,468.67 513.67,468 Q 510.83,467 511.33,464.17 Q 507.5,463.33 508,460.33 Z"/>
<ellipse class="t" cx="515" cy="465" rx="3" ry="2"/>
<path class="w" d="M 530.83,489.33 L 543.33,484.17 L 543.33,495.33 L 532,499 Z"/>
<ellipse class="w" cx="530.83" cy="494.17" rx="3.33" ry="5" transform="rotate(-15 530.83 494.17)"/>
<path class="ph" d="M521.67,498.67 L527.5,496"/>
<path class="ph" d="M525,506.67 L541.67,515.83"/>
<path class="ph" d="M466.67,578.33 L541.67,620.5" style="stroke-dasharray:17 2 2.5 2"/>
<path class="t" d="M463.33,585.83 L469.17,590"/>
<path class="ph" d="M480.83,597.5 L541.67,633" style="stroke-dasharray:14 2 2.5 2"/>
<path class="w" d="M 472,590.83 L 478,587.5 Q 482,589.17 480.83,595.83 L 474.67,599.67"/>
<ellipse class="w" cx="472" cy="595.33" rx="3.17" ry="4.5" transform="rotate(-15 472 595.33)"/>
<path class="ph" d="M410.83,630 L468.33,598.33"/>
</g>
<path class="w" d="M502.2,504.4 L494.2,508.2 L483.3,513.8 L475.5,519 C470,522 466.5,523 463.3,525.2 C459.5,528 457.3,531 456.4,534 C455.3,537.5 455,540 455,543.5 L455,574 C454.8,580 452,584 447.5,586.8 C444.5,588.3 441,587.8 438.3,586.9 L432,584.6 C428,583.4 425.4,585.6 424.9,589.5 C424.6,593 426.5,595.5 429.5,596.8 L438.5,600 C444,601.3 450,600.6 455,597.2 C460.5,593.5 464.5,587 466,580 C466.6,577.5 466.7,576 466.7,574 L466.7,543 C466.7,538 468.5,535 472.5,533 C475,531.6 477.5,530.6 480,530 L489.5,526.8 L496,523 L500,520.4 L508,515.8 L508.7,510.4 C508.4,507.8 506.4,505.3 504.2,504.6 C503.5,504.3 502.8,504.3 502.2,504.4 Z"/>
<path class="k" d="M 480.8,514.8 Q 486.5,519.5 488.3,528" style="stroke-width:1.3"/>
<path class="t" d="M 482.8,513.8 Q 488.5,518.5 490.2,527"/>
<path class="t" d="M 492,509 Q 497.5,513 498.6,520"/>
<text x="423.7" y="547.5" font-size="9" transform="translate(423.7 547.5) scale(.94 1.04) translate(-423.7 -547.5)">9</text>
<path class="ld" d="M426.7,549.7 L426.7,565 L445,586"/>
<ellipse class="k" cx="514.33" cy="505" rx="6" ry="7.2" transform="rotate(-25 514.33 505)"/><ellipse class="t" cx="516.73" cy="501.8" rx="4.32" ry="6.84" transform="rotate(-25 516.73 501.8)"/><ellipse class="w" cx="518.93" cy="498.97" rx="2.2" ry="1.8"/><ellipse cx="518.03" cy="498.67" rx="1.3" ry="1.4" fill="#111"/>
<path class="ld" d="M516.33,511.17 L516.33,530"/>
<text x="512.5" y="539.17" font-size="9" transform="translate(512.5 539.17) scale(.94 1.04) translate(-512.5 -539.17)">11</text>
<text x="391.83" y="544.67" font-size="9" transform="translate(391.83 544.67) scale(.94 1.04) translate(-391.83 -544.67)">11</text>
<path class="ld" d="M396.67,546.67 L396.67,565 L412.5,578.33"/>
<ellipse class="k" cx="419.5" cy="581" rx="5.8" ry="7.6" transform="rotate(25 419.5 581)"/><ellipse class="t" cx="420.8" cy="580.5" rx="4.18" ry="7.22" transform="rotate(25 420.8 580.5)"/><g transform="translate(412.17 584.33) rotate(0)"><path class="w" d="M-2.6,-2 L2.6,-2 L2.6,3 Q0,5 -2.6,3 Z"/><ellipse class="w" cx="0" cy="-2" rx="2.6" ry="1.6"/><ellipse cx="0" cy="-1.8" rx="1.5" ry=".9" fill="#222"/></g>
<g transform="translate(413.5 596.33) rotate(-8) scale(1.08)"><path d="M0,0 L4.6,5.4 L3.8,9.6 L1.6,9.9 L1.8,4 Z" fill="#fff" stroke="#222" stroke-width=".5" stroke-linejoin="round"/><path d="M2.6,5 L2.4,9.6 M3.6,5.4 L3.2,9.6" fill="none" stroke="#444" stroke-width=".4"/><path d="M0,0 L-4.2,2.6 L-2.1,3 L-2.4,8.6 L1.6,9.9 L1.9,4 L3.6,4.4 Z" fill="#111" stroke="#111" stroke-width=".4" stroke-linejoin="round"/></g>
<text x="396.67" y="615.33" font-size="9">ENGINE</text>
<ellipse class="k" cx="403.33" cy="635.67" rx="6" ry="7.2" transform="rotate(-25 403.33 635.67)"/><ellipse class="t" cx="405.53" cy="632.67" rx="4.32" ry="6.84" transform="rotate(-25 405.53 632.67)"/><ellipse class="w" cx="407.27" cy="630.63" rx="2.2" ry="1.8"/><ellipse cx="406.37" cy="630.33" rx="1.3" ry="1.4" fill="#111"/>
<path class="ld" d="M405.83,641.17 L405.83,663.33"/>
<path class="w" d="M390.2,635.4 L369,646.6 L354.6,655.4 C350,658.8 347,660.8 343.3,661.7 C339,662.4 335,661.2 331.7,660.8 L323.3,660 C320.5,660 318.5,661.2 317.5,663.3 C316,666 315.5,667.5 315.8,669.2 C316,672 316.8,674 318.3,675.8 C321,679 325,681 330,682.5 L340.8,675 C346,674 351,672.6 355,671 C359,669.3 362.5,667.2 366,665.2 L376.7,658.9 L398.3,646 L398.3,641.2 C397.6,638.6 396.4,637.2 394.8,636.4 C393.5,635.7 392,635 390.2,635.4 Z"/>
<ellipse class="w" style="stroke-width:1.3" cx="335" cy="674.17" rx="4.83" ry="8.33" transform="rotate(15 335 674.17)"/>
<ellipse class="t" cx="335.33" cy="674.17" rx="4.17" ry="7.5" transform="rotate(15 335.33 674.17)"/>
<path class="k" d="M 369,646.33 Q 375.67,651.67 377,660" style="stroke-width:1.3"/>
<path class="t" d="M 371,645.33 Q 377.67,650.67 379,658.67"/>
<path class="t" d="M 380.33,641 Q 386,645.33 387.33,653.33"/>
<text x="350.33" y="631.67" font-size="9" transform="translate(350.33 631.67) scale(.94 1.04) translate(-350.33 -631.67)">10</text>
<path class="ld" d="M355,633.33 L355,655.83"/>
<path class="ph" d="M340.83,680 L346.67,684.17"/>
<ellipse class="k" cx="355" cy="686.67" rx="5.6" ry="8.8" transform="rotate(25 355 686.67)"/><ellipse class="t" cx="356.3" cy="686.17" rx="4.03" ry="8.36" transform="rotate(25 356.3 686.17)"/><g transform="translate(346.83 690.5) rotate(0)"><path class="w" d="M-2.6,-2 L2.6,-2 L2.6,3 Q0,5 -2.6,3 Z"/><ellipse class="w" cx="0" cy="-2" rx="2.6" ry="1.6"/><ellipse cx="0" cy="-1.8" rx="1.5" ry=".9" fill="#222"/></g>
<path class="ld" d="M354.5,695.33 L354.5,715"/>
<text x="350" y="724.67" font-size="9" transform="translate(350 724.67) scale(.94 1.04) translate(-350 -724.67)">12</text>
<g transform="translate(377.67 702.33) rotate(145) scale(1.08)"><path d="M0,0 L4.6,5.4 L3.8,9.6 L1.6,9.9 L1.8,4 Z" fill="#fff" stroke="#222" stroke-width=".5" stroke-linejoin="round"/><path d="M2.6,5 L2.4,9.6 M3.6,5.4 L3.2,9.6" fill="none" stroke="#444" stroke-width=".4"/><path d="M0,0 L-4.2,2.6 L-2.1,3 L-2.4,8.6 L1.6,9.9 L1.9,4 L3.6,4.4 Z" fill="#111" stroke="#111" stroke-width=".4" stroke-linejoin="round"/></g>
<text x="384.67" y="707.5" font-size="9">ENGINE</text>
<text x="400.33" y="668.33" font-size="9" transform="translate(400.33 668.33) scale(.94 1.04) translate(-400.33 -668.33)">11</text>

</svg>
</body></html>
